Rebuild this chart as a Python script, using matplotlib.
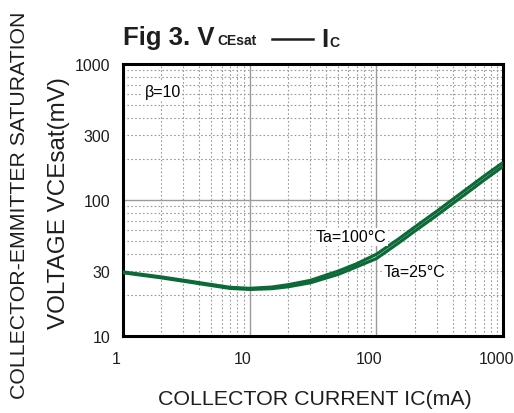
import numpy as np
import matplotlib
matplotlib.use("Agg")
import matplotlib.pyplot as plt
import matplotlib.transforms as mtransforms
from matplotlib.lines import Line2D
from matplotlib.ticker import LogLocator, FuncFormatter, NullFormatter

plt.rcParams['font.family'] = ['Liberation Sans', 'DejaVu Sans']

# collector current (mA) and VCEsat (mV)
ic_ma = [1, 2, 3, 5, 7, 10, 15, 20, 30, 50, 70, 100, 150, 200, 300, 500, 700, 1000]
vce_100c = [29.6, 27.2, 25.7, 23.9, 22.8, 22.4, 22.9, 23.8, 25.6, 30.0, 34.0, 39.9,
            51.8, 63.1, 82.8, 118, 149, 189]
vce_25c = [29.2, 26.8, 25.3, 23.5, 22.4, 22.0, 22.3, 23.0, 24.6, 28.4, 32.3, 37.1,
           48.4, 58.9, 77.2, 110, 139, 177]

line_color = '#0b6a37'
text_color = '#1e1e1e'

fig = plt.figure(figsize=(5.14, 4.14), dpi=100)
ax = fig.add_axes([0.239, 0.186, 0.740, 0.657])

ax.plot(ic_ma, vce_100c, color=line_color, lw=2.3, solid_capstyle='butt', zorder=3)
ax.plot(ic_ma, vce_25c, color=line_color, lw=2.3, solid_capstyle='butt', zorder=3)

ax.set_xscale('log')
ax.set_yscale('log')
ax.set_xlim(1, 1000)
ax.set_ylim(10, 1000)

ax.xaxis.set_major_locator(LogLocator(base=10))
ax.xaxis.set_minor_locator(LogLocator(base=10, subs=np.arange(2, 10)))
ax.xaxis.set_minor_formatter(NullFormatter())
ax.xaxis.set_major_formatter(FuncFormatter(lambda v, p: f"{v:g}"))

ax.yaxis.set_major_locator(LogLocator(base=10))
ax.yaxis.set_minor_locator(LogLocator(base=10, subs=np.arange(2, 10)))
ax.yaxis.set_major_formatter(FuncFormatter(lambda v, p: f"{v:g}"))
ax.yaxis.set_minor_formatter(FuncFormatter(
    lambda v, p: f"{v:g}" if round(v) in (30, 300) else ""))

ax.tick_params(which='both', length=0, labelsize=11.5, colors=text_color)
ax.tick_params(axis='y', which='both', pad=9)
ax.tick_params(axis='x', which='both', pad=11)

# x tick labels sit a little left of their gridlines
shift = mtransforms.ScaledTranslation(-7 / 100, 0, fig.dpi_scale_trans)
for lab in ax.get_xticklabels():
    lab.set_transform(lab.get_transform() + shift)

ax.grid(which='major', color='#9a9a9a', lw=1.0, ls='-')
ax.grid(which='minor', color='#9a9a9a', lw=0.8, ls=(0, (1.5, 2)))
ax.set_axisbelow(True)

for s in ax.spines.values():
    s.set_linewidth(2.2)
    s.set_color('black')

box = dict(facecolor='white', edgecolor='none', pad=1)
ax.text(1.49, 632, 'β=10', fontsize=11.5, va='center', ha='left', bbox=box, zorder=4)
ax.text(33.4, 53.5, 'Ta=100°C', fontsize=11.5, va='center', ha='left', bbox=box, zorder=4)
ax.text(115, 30, 'Ta=25°C', fontsize=11.5, va='center', ha='left', bbox=box, zorder=4)

# title: Fig 3. VCEsat —— IC, pieces placed by pixel
W, H = 514, 414
def fx(px):
    return px / W
def fy(py):
    return 1 - py / H

fig.text(fx(123), fy(45), 'Fig 3. V', fontsize=18.5, fontweight='bold',
         color=text_color, va='baseline')
fig.text(fx(217), fy(45), 'CEsat', fontsize=10, fontweight='bold',
         color=text_color, va='baseline')
fig.add_artist(Line2D([fx(272), fx(313)], [fy(40), fy(40)], color=text_color, lw=1.8))
fig.text(fx(321), fy(47), 'I', fontsize=18.5, fontweight='bold',
         color=text_color, va='baseline')
fig.text(fx(329), fy(47), 'C', fontsize=10, fontweight='bold',
         color=text_color, va='baseline')

fig.text(0.613, 0.034, 'COLLECTOR CURRENT IC(mA)', fontsize=15.4,
         ha='center', va='center', color=text_color)
# the reference crops this line at the figure edges; slightly smaller here so it fits
fig.text(0.037, 0.505, 'COLLECTOR-EMMITTER SATURATION', rotation=90, fontsize=15.3,
         ha='center', va='center', color=text_color)
fig.text(0.115, 0.51, 'VOLTAGE VCEsat(mV)', rotation=90, fontsize=17.5,
         ha='center', va='center', color=text_color)

fig.savefig('out.png', dpi=100)
